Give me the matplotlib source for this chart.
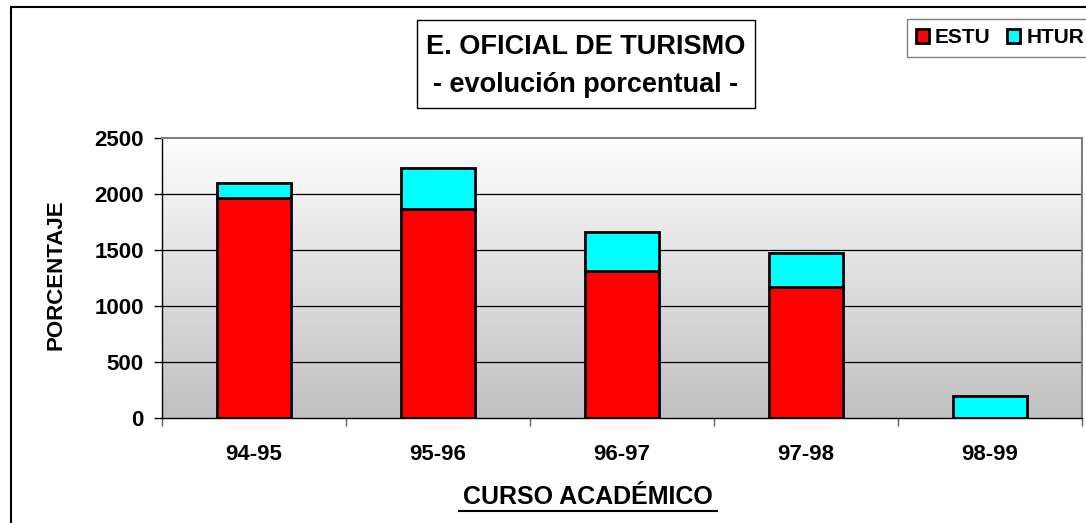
import matplotlib
matplotlib.use("Agg")
import matplotlib.pyplot as plt
import numpy as np
from matplotlib.lines import Line2D
from matplotlib.patches import Rectangle

# ----------------------------------------------------------------------
# Data
# ----------------------------------------------------------------------
cursos = ["94-95", "95-96", "96-97", "97-98", "98-99"]
estu = [1964, 1866, 1310, 1167, 0]
htur = [130, 370, 354, 303, 196]
y_ticks = [0, 500, 1000, 1500, 2000, 2500]

plt.rcParams['font.family'] = ['Liberation Sans', 'DejaVu Sans']
plt.rcParams['font.weight'] = 'bold'

W, H = 1086, 523
fig = plt.figure(figsize=(W / 100, H / 100), dpi=100)
fig.patch.set_facecolor('white')

# plot area
ax = fig.add_axes([162 / W, 1 - 418 / H, 920 / W, 280 / H])
x = np.arange(len(cursos))

# Gradient background (white at top to gray at bottom)
grad = np.linspace(0, 1, 256).reshape(-1, 1)
top = np.array([253, 253, 253]) / 255
bot = np.array([192, 192, 192]) / 255
img = top + (bot - top) * grad[:, :, None]
ax.imshow(img, extent=[-0.5, len(cursos) - 0.5, 0, 2500], aspect='auto',
          zorder=0, origin='upper')
ax.set_xlim(-0.5, len(cursos) - 0.5)
ax.set_ylim(0, 2500)

# Grid lines
for yv in y_ticks[1:-1]:
    ax.axhline(yv, color='black', linewidth=0.9, zorder=1)

# Stacked bars
ax.bar(x, estu, width=0.4, color='#FF0000', edgecolor='black',
       linewidth=2.0, zorder=2, label='ESTU')
ax.bar(x, htur, width=0.4, bottom=estu, color='#00FFFF', edgecolor='black',
       linewidth=2.0, zorder=2, label='HTUR')

# Axes styling
for side in ['top', 'right']:
    ax.spines[side].set_color('#808080')
    ax.spines[side].set_linewidth(1.5)
for side in ['left', 'bottom']:
    ax.spines[side].set_color('black')
    ax.spines[side].set_linewidth(1.0)

ax.set_yticks(y_ticks)
ax.set_yticklabels([str(v) for v in y_ticks], fontsize=16, fontweight='bold')
ax.tick_params(axis='y', direction='out', length=6, width=1, pad=7)

ax.set_xticks(x)
ax.set_xticklabels(cursos, fontsize=16, fontweight='bold')
ax.tick_params(axis='x', which='major', length=0, pad=19)
ax.set_xticks(np.arange(-0.5, len(cursos), 1.0), minor=True)
ax.tick_params(axis='x', which='minor', direction='out', length=6, width=1,
               color='#606060')

# Axis titles
fig.text(56 / W, 1 - 275 / H, 'PORCENTAJE', rotation=90, ha='center', va='center',
         fontsize=16, fontweight='bold')
fig.text(588 / W, 1 - 497 / H, 'CURSO ACADÉMICO', ha='center', va='center',
         fontsize=18, fontweight='bold')
fig.add_artist(Line2D([459 / W, 717 / W], [1 - 511 / H, 1 - 511 / H],
                      color='black', linewidth=1.5))

# Title box
fig.add_artist(Rectangle((417 / W, 1 - 108 / H), 338 / W, 88 / H,
                         facecolor='white', edgecolor='black', linewidth=1.0))
fig.text(586 / W, 1 - 47 / H, 'E. OFICIAL DE TURISMO', ha='center', va='center',
         fontsize=19.5, fontweight='bold')
fig.text(586 / W, 1 - 85 / H, '- evolución porcentual -', ha='center', va='center',
         fontsize=19.5, fontweight='bold')

# Legend
leg = fig.legend(loc='upper left', bbox_to_anchor=(907 / W, 1 - 19 / H), ncol=2,
                 fontsize=15, frameon=True, fancybox=False, edgecolor='#606060',
                 handlelength=0.6, handleheight=0.6, handletextpad=0.3,
                 columnspacing=0.8, borderpad=0.45, borderaxespad=0)
leg.get_frame().set_linewidth(1.0)
for t in leg.get_texts():
    t.set_fontweight('bold')

# Outer chart border (left and top)
fig.add_artist(Line2D([11 / W, 11 / W], [0, 1 - 7 / H], color='black', linewidth=1.5))
fig.add_artist(Line2D([11 / W, 1], [1 - 7 / H, 1 - 7 / H], color='black', linewidth=1.5))

fig.savefig('out.png', dpi=100)
